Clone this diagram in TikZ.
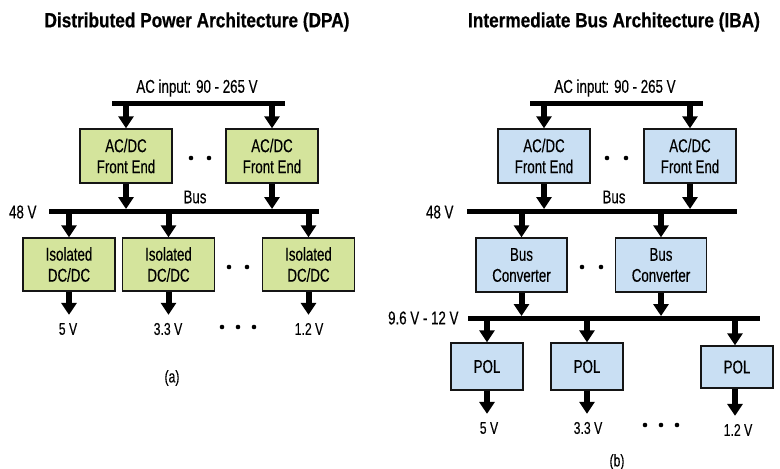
\documentclass[tikz,border=0pt]{standalone}
\usepackage{fontspec}
\setmainfont{Liberation Sans}[FakeStretch=0.72, FakeBold=0.3]
\newfontfamily\ttlfont{Liberation Sans}[FakeStretch=0.84, FakeBold=0.5]
\usetikzlibrary{arrows.meta}
\definecolor{dpafill}{HTML}{D4E49C}
\definecolor{ibafill}{HTML}{C9DFF3}
\definecolor{ink}{HTML}{151515}

\begin{document}
\begin{tikzpicture}[x=1pt, y=-1pt,
  font=\fontsize{18.5}{21}\selectfont,
  box/.style={draw=ink, line width=1.4pt, minimum width=92pt, minimum height=54pt,
              inner sep=0pt, align=center},
  dpa/.style={box, fill=dpafill},
  iba/.style={box, fill=ibafill},
  pol/.style={iba, minimum width=72pt, minimum height=47pt},
  bus/.style={line width=5pt, draw=black},
  pw/.style={-{Triangle[width=15pt,length=12pt]}, line width=6pt, draw=black},
  onbus/.style={pw, shorten >=2pt},
  dot/.style={circle, fill=black, inner sep=0pt, minimum size=4.6pt},
  ttl/.style={font=\ttlfont\bfseries\fontsize{20.5}{23}\selectfont},
  vout/.style={font=\fontsize{17}{18}\selectfont, inner sep=3pt},
  sublabel/.style={font=\fontsize{17}{18}\selectfont}]
\useasboundingbox (0,0) rectangle (780,469);
% ---------- (a) distributed power architecture
\node[ttl] (ttlA) at (197,22) {Distributed Power Architecture (DPA)};
\node (acinA) at (197,88) {AC input: 90 - 265 V};
\coordinate (acA1) at (112,103);
\coordinate (acA2) at (285,103);
\node[dpa] (feA1) at (126,156) {AC/DC\\Front End};
\node[dpa] (feA2) at (272,156) {AC/DC\\Front End};
\node[dot] (dA1) at (191,158) {};
\node[dot] (dA2) at (209,158) {};
\node (busA) at (195,197) {Bus};
\coordinate (bA1) at (49,211);
\coordinate (bA2) at (319,211);
\node[anchor=east] (v48A) at (40,212) {48 V};
\node[dpa, minimum height=53pt] (isoA1) at (69,264.5) {Isolated\\DC/DC};
\node[dpa, minimum height=53pt] (isoA2) at (168.5,264.5) {Isolated\\DC/DC};
\node[dpa, minimum height=53pt] (isoA3) at (308.5,264.5) {Isolated\\DC/DC};
\node[dot] (dA3) at (229,267) {};
\node[dot] (dA4) at (247,267) {};
\node[vout] (oA1) at (68,329) {5 V};
\node[vout] (oA2) at (168,329) {3.3 V};
\node[vout] (oA3) at (309,329) {1.2 V};
\node[dot] (dA5) at (222,327) {};
\node[dot] (dA6) at (238,327) {};
\node[dot] (dA7) at (254,327) {};
\node[sublabel] (capA) at (172,378) {(a)};
% ---------- (b) intermediate bus architecture
\node[ttl] (ttlB) at (614,22) {Intermediate Bus Architecture (IBA)};
\node (acinB) at (615,88) {AC input: 90 - 265 V};
\coordinate (acB1) at (530,103);
\coordinate (acB2) at (703,103);
\node[iba] (feB1) at (544,156) {AC/DC\\Front End};
\node[iba] (feB2) at (690,156) {AC/DC\\Front End};
\node[dot] (dB1) at (607,158) {};
\node[dot] (dB2) at (626,158) {};
\node (busB) at (614,197) {Bus};
\coordinate (bB1) at (467,211);
\coordinate (bB2) at (737,211);
\node[anchor=east] (v48B) at (457,212) {48 V};
\node[iba, minimum width=91pt] (bcB1) at (521.5,265) {Bus\\Converter};
\node[iba, minimum width=91pt] (bcB2) at (661,265) {Bus\\Converter};
\node[dot] (dB3) at (582,267) {};
\node[dot] (dB4) at (601,267) {};
\coordinate (iB1) at (468,318);
\coordinate (iB2) at (760,318);
\node[anchor=east] (v12B) at (462,318) {9.6 V - 12 V};
\node[pol] (polB1) at (487,366.5) {POL};
\node[pol] (polB2) at (587,366.5) {POL};
\node[pol, minimum height=42pt] (polB3) at (737,367) {POL};
\node[vout] (oB1) at (489,428) {5 V};
\node[vout] (oB2) at (588,428) {3.3 V};
\node[vout] (oB3) at (738,430) {1.2 V};
\node[dot] (dB5) at (645,425) {};
\node[dot] (dB6) at (661,425) {};
\node[dot] (dB7) at (677,425) {};
\node[sublabel] (capB) at (617,462) {(b)};
% ---------- buses
\draw[bus] (acA1) -- (acA2);
\draw[bus] (bA1) -- (bA2);
\draw[bus] (acB1) -- (acB2);
\draw[bus] (bB1) -- (bB2);
\draw[bus] (iB1) -- (iB2);
% ---------- arrows (a)
\draw[pw] (feA1 |- acA1) -- (feA1.north);
\draw[pw] (feA2 |- acA1) -- (feA2.north);
\draw[onbus] (feA1.south) -- (feA1 |- bA1);
\draw[onbus] (feA2.south) -- (feA2 |- bA1);
\draw[pw] (isoA1 |- bA1) -- (isoA1.north);
\draw[pw] (isoA2 |- bA1) -- (isoA2.north);
\draw[pw] (isoA3 |- bA1) -- (isoA3.north);
\draw[pw, shorten >=5pt] (isoA1.south) -- (isoA1.south |- oA1.north);
\draw[pw, shorten >=5pt] (isoA2.south) -- (isoA2.south |- oA2.north);
\draw[pw, shorten >=5pt] (isoA3.south) -- (isoA3.south |- oA3.north);
% ---------- arrows (b)
\draw[pw] (feB1 |- acB1) -- (feB1.north);
\draw[pw] (feB2 |- acB1) -- (feB2.north);
\draw[onbus] (feB1.south) -- (feB1 |- bB1);
\draw[onbus] (feB2.south) -- (feB2 |- bB1);
\draw[pw] (bcB1 |- bB1) -- (bcB1.north);
\draw[pw] (bcB2 |- bB1) -- (bcB2.north);
\draw[onbus] (bcB1.south) -- (bcB1 |- iB1);
\draw[onbus] (bcB2.south) -- (bcB2 |- iB1);
\draw[pw] (polB1 |- iB1) -- (polB1.north);
\draw[pw] (polB2 |- iB1) -- (polB2.north);
\draw[pw] ([xshift=-2pt]polB3 |- iB1) -- ([xshift=-2pt]polB3.north);
\draw[pw, shorten >=5pt] (polB1.south) -- (polB1.south |- oB1.north);
\draw[pw, shorten >=5pt] (polB2.south) -- (polB2.south |- oB2.north);
\draw[pw, shorten >=5pt] ([xshift=-2pt]polB3.south) -- ([xshift=-2pt]polB3.south |- oB3.north);
\end{tikzpicture}
\end{document}
